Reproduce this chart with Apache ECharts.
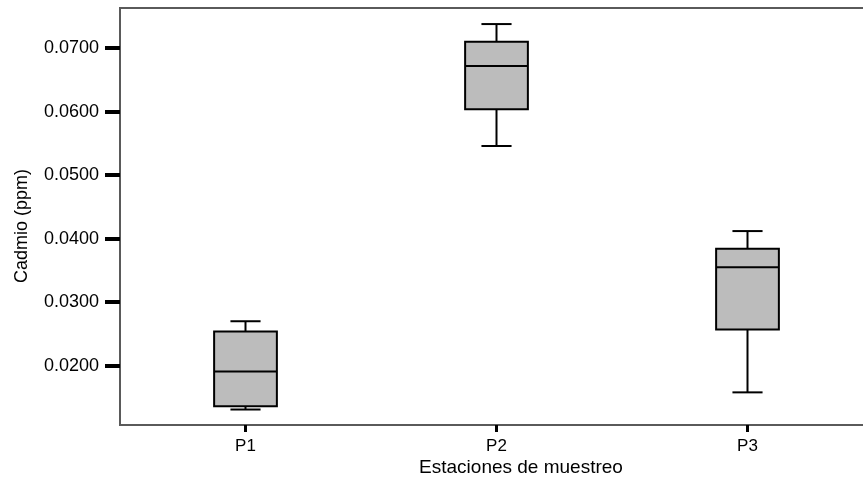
<!DOCTYPE html>
<html>
<head>
<meta charset="utf-8">
<script src="https://cdn.jsdelivr.net/npm/echarts@6/dist/echarts.min.js"></script>
<style>html,body{margin:0;padding:0;background:#fff}#c{width:863px;height:485px}</style>
</head>
<body>
<div id="c"></div>
<script>
const categories = ['P1', 'P2', 'P3'];
const minVals    = [0.0131, 0.0546, 0.0158];
const q1Vals     = [0.0136, 0.0604, 0.0257];
const medianVals = [0.0191, 0.0672, 0.0355];
const q3Vals     = [0.0254, 0.0710, 0.0384];
const maxVals    = [0.0270, 0.0738, 0.0412];
const yTicks     = [0.02, 0.03, 0.04, 0.05, 0.06, 0.07];

const data = categories.map((c, i) => [i, minVals[i], q1Vals[i], medianVals[i], q3Vals[i], maxVals[i]]);

const chart = echarts.init(document.getElementById('c'), null, {renderer: 'canvas'});
const font = 'Liberation Sans, Arial, sans-serif';

chart.setOption({
  animation: false,
  backgroundColor: '#fff',
  grid: {left: 120, top: 8, width: 753, height: 417, outerBoundsMode: 'none', containLabel: false,
    show: true, borderColor: '#5a5a5a', borderWidth: 2, backgroundColor: 'transparent'},
  xAxis: {
    type: 'category', data: categories, boundaryGap: true,
    axisLine: {show: true, lineStyle: {color: '#5a5a5a', width: 2}},
    axisTick: {show: true, alignWithLabel: true, length: 7, lineStyle: {color: '#000', width: 3}},
    axisLabel: {color: '#000', fontSize: 17, fontFamily: font, margin: 13},
    splitLine: {show: false}
  },
  yAxis: {
    type: 'value', min: 0.01066, max: 0.07633,
    axisLine: {show: true, lineStyle: {color: '#5a5a5a', width: 2}},
    axisTick: {show: true, inside: false, length: 15, customValues: yTicks, lineStyle: {color: '#000', width: 4}},
    axisLabel: {color: '#000', fontSize: 18, fontFamily: font, margin: 21, customValues: yTicks,
      formatter: v => v.toFixed(4)},
    splitLine: {show: false}
  },
  graphic: [
    {type: 'text', x: 521, y: 458, style: {text: 'Estaciones de muestreo', fill: '#000', font: '19px ' + font, textAlign: 'center', textVerticalAlign: 'top'}},
    {type: 'text', x: 13, y: 283, rotation: Math.PI / 2, style: {text: 'Cadmio (ppm)', fill: '#000', font: '18px ' + font, textAlign: 'left', textVerticalAlign: 'top'}}
  ],
  series: [{
    type: 'custom',
    data: data,
    encode: {x: 0, y: [1, 2, 3, 4, 5]},
    renderItem: function (params, api) {
      const xi = api.value(0);
      const band = api.size([1, 0])[0];
      const bw = band * 0.25, cw = band * 0.12;
      const pMin = api.coord([xi, api.value(1)]);
      const pQ1 = api.coord([xi, api.value(2)]);
      const pMed = api.coord([xi, api.value(3)]);
      const pQ3 = api.coord([xi, api.value(4)]);
      const pMax = api.coord([xi, api.value(5)]);
      const cx = pMin[0];
      const ls = {stroke: '#000', lineWidth: 2};
      return {
        type: 'group',
        children: [
          {type: 'line', shape: {x1: cx, y1: pQ3[1], x2: cx, y2: pMax[1]}, style: ls},
          {type: 'line', shape: {x1: cx, y1: pQ1[1], x2: cx, y2: pMin[1]}, style: ls},
          {type: 'line', shape: {x1: cx - cw / 2, y1: pMax[1], x2: cx + cw / 2, y2: pMax[1]}, style: ls},
          {type: 'line', shape: {x1: cx - cw / 2, y1: pMin[1], x2: cx + cw / 2, y2: pMin[1]}, style: ls},
          {type: 'rect', shape: {x: cx - bw / 2, y: pQ3[1], width: bw, height: pQ1[1] - pQ3[1]}, style: {fill: '#bcbcbc', stroke: '#000', lineWidth: 2}},
          {type: 'line', shape: {x1: cx - bw / 2, y1: pMed[1], x2: cx + bw / 2, y2: pMed[1]}, style: ls}
        ]
      };
    }
  }]
});
</script>
</body>
</html>
